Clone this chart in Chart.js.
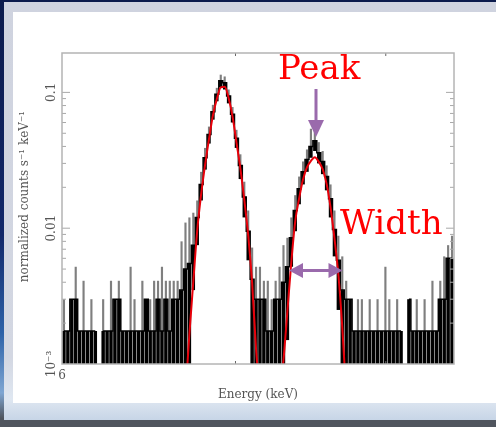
<!DOCTYPE html>
<html>
<head>
<meta charset="utf-8">
<script src="https://cdn.jsdelivr.net/npm/chart.js@4.4.1/dist/chart.umd.min.js"></script>
<style>
  html, body { margin: 0; padding: 0; }
  body {
    width: 496px; height: 427px; overflow: hidden; position: relative;
    background: linear-gradient(#0b1a4c 0%, #12286a 55%, #2d62a8 78%, #7fa6d2 92%, #4f545d 98%);
  }
  .slide {
    position: absolute; left: 4px; right: 0; top: 2px; height: 418px;
    background: linear-gradient(#cfd3df 0%, #d3d7e2 85%, #dfe7f1 95%, #c7d5e7 100%);
  }
  .floor { position: absolute; left: 0; right: 0; top: 420px; height: 7px; background: #50555e; }
  .panel { position: absolute; left: 13px; top: 12px; width: 483px; height: 391px; background: #fff; }
  .panel canvas { position: absolute; left: 0; top: 0; }
  .note {
    position: absolute; color: #ff0000; font-family: 'DejaVu Serif', serif;
    font-size: 34px; line-height: 34px; white-space: nowrap;
  }
  svg { position: absolute; left: 0; top: 0; }
</style>
</head>
<body>
<div class="slide"></div>
<div class="floor"></div>
<div class="panel"><canvas id="spec" width="483" height="391"></canvas></div>
<svg width="496" height="427">
  <g fill="#9a6aac">
    <rect x="314.5" y="89" width="3" height="33"></rect>
    <polygon points="308,120 324,120 316,137"></polygon>
    <rect x="301" y="269" width="29" height="3"></rect>
    <polygon points="289,270.5 303,263 303,278"></polygon>
    <polygon points="342.5,270.5 328.5,263 328.5,278"></polygon>
  </g>
</svg>
<div class="note" style="left:278px; top:50px;">Peak</div>
<div class="note" style="left:340px; top:205px;">Width</div>

<script>
// channel energies (keV), log-spaced bins from 6 to 8.5
const ENERGY = [
  6.01, 6.03, 6.05, 6.07, 6.09, 6.12, 6.14, 6.16, 6.18, 6.20,
  6.22, 6.25, 6.27, 6.29, 6.31, 6.33, 6.35, 6.38, 6.40, 6.42,
  6.44, 6.47, 6.49, 6.51, 6.53, 6.56, 6.58, 6.60, 6.63, 6.65,
  6.67, 6.70, 6.72, 6.74, 6.77, 6.79, 6.81, 6.84, 6.86, 6.89,
  6.91, 6.93, 6.96, 6.98, 7.01, 7.03, 7.05, 7.08, 7.10, 7.13,
  7.15, 7.18, 7.20, 7.23, 7.25, 7.28, 7.30, 7.33, 7.36, 7.38,
  7.41, 7.43, 7.46, 7.49, 7.51, 7.54, 7.56, 7.59, 7.62, 7.64,
  7.67, 7.70, 7.72, 7.75, 7.78, 7.80, 7.83, 7.86, 7.89, 7.91,
  7.94, 7.97, 8.00, 8.03, 8.05, 8.08, 8.11, 8.14, 8.17, 8.19,
  8.22, 8.25, 8.28, 8.31, 8.34, 8.37, 8.40, 8.43, 8.46, 8.49
];

// normalized counts s^-1 keV^-1 per channel
const COUNTS = [
  0.00175, 0.00175, 0.003, 0.003, 0.00175, 0.00175, 0.00175, 0.00175, 0.00175, null,
  0.00175, 0.00175, 0.00175, 0.003, 0.003, 0.00175, 0.00175, 0.00175, 0.00175, 0.00175,
  0.00175, 0.003, 0.00175, 0.00175, 0.003, 0.00175, 0.003, 0.00175, 0.003, 0.003,
  0.0035, 0.005, 0.0055, 0.0075, 0.012, 0.021, 0.033, 0.049, 0.072, 0.097,
  0.122, 0.118, 0.094, 0.069, 0.046, 0.029, 0.017, 0.0095, 0.0042, 0.003,
  0.003, 0.003, 0.00175, 0.00175, 0.003, 0.003, 0.004, 0.0052, 0.0085, 0.0135,
  0.0195, 0.026, 0.032, 0.040, 0.044, 0.036, 0.031, 0.024, 0.0165, 0.0098,
  0.0058, 0.0035, 0.003, 0.003, 0.00175, 0.00175, 0.00175, 0.00175, 0.00175, 0.00175,
  0.00175, 0.00175, 0.00175, 0.00175, 0.00175, 0.00175, 0.00175, null, 0.003, 0.00175,
  0.00175, 0.00175, 0.00175, 0.00175, 0.00175, 0.00175, 0.003, 0.003, 0.006, 0.006
];

// lower / upper ends of the error bars
const ERR_LO = [
  0.0005, 0.0005, 0.0005, 0.0005, 0.0005, 0.0005, 0.0005, 0.0005, 0.0005, null,
  0.0005, 0.0005, 0.0005, 0.0005, 0.0005, 0.0005, 0.0005, 0.0005, 0.0005, 0.0005,
  0.0005, 0.0005, 0.0005, 0.0005, 0.0005, 0.0005, 0.0005, 0.0005, 0.0005, 0.0005,
  0.0005, 0.0005, 0.0005, 0.0035, 0.0075, 0.016, 0.027, 0.042, 0.063, 0.086,
  0.109, 0.105, 0.083, 0.060, 0.039, 0.023, 0.012, 0.0058, 0.0005, 0.0005,
  0.0005, 0.0005, 0.0005, 0.0005, 0.0005, 0.0005, 0.0005, 0.0015, 0.0052, 0.0095,
  0.015, 0.021, 0.026, 0.033, 0.037, 0.030, 0.025, 0.019, 0.012, 0.0062,
  0.0025, 0.0005, 0.0005, 0.0005, 0.0005, 0.0005, 0.0005, 0.0005, 0.0005, 0.0005,
  0.0005, 0.0005, 0.0005, 0.0005, 0.0005, 0.0005, 0.0005, null, 0.0005, 0.0005,
  0.0005, 0.0005, 0.0005, 0.0005, 0.0005, 0.0005, 0.0005, 0.0005, 0.0005, 0.0005
];
const ERR_HI = [
  0.003, 0.00175, 0.003, 0.0052, 0.00175, 0.0041, 0.00175, 0.003, 0.00175, null,
  0.003, 0.00175, 0.0041, 0.003, 0.0041, 0.00175, 0.00175, 0.0052, 0.003, 0.00175,
  0.0041, 0.003, 0.003, 0.0041, 0.0041, 0.0052, 0.0041, 0.0041, 0.0041, 0.0041,
  0.008, 0.011, 0.012, 0.013, 0.016, 0.026, 0.039, 0.056, 0.081, 0.108,
  0.135, 0.131, 0.105, 0.078, 0.053, 0.035, 0.022, 0.0135, 0.0072, 0.0052,
  0.0052, 0.0041, 0.0041, 0.003, 0.0041, 0.0052, 0.0075, 0.0085, 0.012, 0.0175,
  0.024, 0.031, 0.038, 0.054, 0.056, 0.043, 0.037, 0.029, 0.021, 0.0135,
  0.0088, 0.0062, 0.0041, 0.003, 0.00175, 0.003, 0.003, 0.00175, 0.003, 0.00175,
  0.003, 0.00175, 0.0052, 0.003, 0.00175, 0.003, 0.00175, null, 0.003, 0.00175,
  0.003, 0.00175, 0.003, 0.00175, 0.0041, 0.00175, 0.0041, 0.0062, 0.0075, 0.0088
];

// fitted model (two gaussian lines), only where it is above the plot floor
const MODEL = [
  null, null, null, null, null, null, null, null, null, null,
  null, null, null, null, null, null, null, null, null, null,
  null, null, null, null, null, null, null, null, null, null,
  null, 0.0006, 0.00166, 0.00405, 0.00966, 0.0178, 0.0292, 0.0453, 0.0677, 0.0894,
  0.109, 0.110, 0.091, 0.0666, 0.0429, 0.0276, 0.0162, 0.00889, 0.00396, 0.00129,
  0.0006, null, null, null, null, 0.0006, 0.00107, 0.00245, 0.00562, 0.01125,
  0.0166, 0.0229, 0.0281, 0.0313, 0.0333, 0.0308, 0.0272, 0.0212, 0.01426, 0.00844,
  0.00456, 0.00187, 0.0006, null, null, null, null, null, null, null,
  null, null, null, null, null, null, null, null, null, null,
  null, null, null, null, null, null, null, null, null, null
];

const X_TICKS = [6, 7, 8];
const X_TICK_LABELS = ['6', '', ''];
const Y_TICKS = [0.001, 0.01, 0.1];
const Y_TICK_LABELS = ['10⁻³', '0.01', '0.1'];

const AXIS_FONT = { family: "'DejaVu Serif', serif", size: 12 };
const AXIS_COLOR = '#555';

const near = (a, b) => Math.abs(a - b) < b * 1e-6;
const isPow10 = v => Math.abs(Math.log10(v) - Math.round(Math.log10(v))) < 1e-6;

// frame with inward ticks, like the original plot
const frameTicks = {
  id: 'frameTicks',
  afterDatasetsDraw(chart) {
    const { ctx, chartArea: a, scales } = chart;
    const seg = (x1, y1, x2, y2) => { ctx.beginPath(); ctx.moveTo(x1, y1); ctx.lineTo(x2, y2); ctx.stroke(); };
    ctx.save();
    ctx.strokeStyle = '#a8a8a8';
    ctx.lineWidth = 1;
    scales.y.ticks.forEach(t => {
      const py = scales.y.getPixelForValue(t.value);
      if (py <= a.top + 1 || py >= a.bottom - 1) return;
      const len = isPow10(t.value) ? 8 : 4;
      seg(a.left, py, a.left + len, py);
      seg(a.right, py, a.right - len, py);
    });
    scales.xe.ticks.forEach(t => {
      const px = scales.xe.getPixelForValue(t.value);
      if (px <= a.left + 1) return;
      ctx.strokeStyle = '#666';
      seg(px, a.top, px, a.top + 3);
      seg(px, a.bottom, px, a.bottom - 3);
    });
    ctx.strokeStyle = '#b4b4b4';
    ctx.lineWidth = 1.5;
    ctx.strokeRect(a.left, a.top, a.right - a.left, a.bottom - a.top);
    ctx.restore();
  }
};

const lowerBars = COUNTS.map((v, i) => v === null ? null : [ERR_LO[i], v]);
const upperBars = COUNTS.map((v, i) => v === null ? null : [v, ERR_HI[i]]);

new Chart(document.getElementById('spec'), {
  type: 'bar',
  data: {
    labels: ENERGY,
    datasets: [
      {
        type: 'line',
        label: 'model',
        data: MODEL,
        borderColor: '#e8000a',
        borderWidth: 2,
        pointRadius: 0,
        tension: 0.3,
        cubicInterpolationMode: 'monotone',
        spanGaps: false,
        clip: 0,
        order: 0
      },
      {
        type: 'line',
        label: 'data',
        data: COUNTS,
        borderColor: '#000',
        borderWidth: 1.5,
        pointRadius: 0,
        stepped: 'middle',
        spanGaps: false,
        clip: 0,
        order: 1
      },
      {
        label: 'upper error',
        data: upperBars,
        backgroundColor: 'rgba(0,0,0,0.5)',
        borderWidth: 0,
        grouped: false,
        barPercentage: 0.55,
        categoryPercentage: 1,
        clip: 0,
        order: 2
      },
      {
        label: 'lower error',
        data: lowerBars,
        backgroundColor: '#000',
        borderWidth: 0,
        grouped: false,
        barPercentage: 0.88,
        categoryPercentage: 1,
        inflateAmount: 0,
        clip: 0,
        order: 3
      }
    ]
  },
  options: {
    responsive: false,
    animation: false,
    events: [],
    layout: { padding: { left: 0, top: 41, right: 42, bottom: 0 } },
    plugins: { legend: { display: false }, tooltip: { enabled: false } },
    scales: {
      x: { type: 'category', display: false, offset: true },
      xe: {
        type: 'logarithmic',
        position: 'bottom',
        min: 6,
        max: 8.5,
        grid: { display: false, drawTicks: false },
        border: { display: false },
        afterBuildTicks: s => { s.ticks = X_TICKS.map(v => ({ value: v })); },
        afterFit: s => { s.height = 39; },
        ticks: {
          autoSkip: false,
          maxRotation: 0,
          padding: 5,
          font: AXIS_FONT,
          color: AXIS_COLOR,
          callback: v => X_TICK_LABELS[X_TICKS.indexOf(v)] || ''
        },
        title: {
          display: true,
          text: 'Energy (keV)',
          font: AXIS_FONT,
          color: AXIS_COLOR,
          padding: { top: 0, bottom: 1 }
        }
      },
      y: {
        type: 'logarithmic',
        position: 'left',
        min: 0.001,
        max: 0.195,
        stacked: false,
        grid: { display: false, drawTicks: false },
        border: { display: false },
        afterBuildTicks: s => {
          s.ticks = s.ticks.filter(t => {
            const m = t.value / Math.pow(10, Math.floor(Math.log10(t.value) + 1e-9));
            return Math.abs(m - Math.round(m)) < 1e-6;
          });
        },
        afterFit: s => { s.width = 49; },
        ticks: {
          autoSkip: false,
          minRotation: 90,
          maxRotation: 90,
          crossAlign: 'center',
          padding: -3,
          font: AXIS_FONT,
          color: AXIS_COLOR,
          callback: v => {
            const k = Y_TICKS.findIndex(t => near(v, t));
            return k < 0 ? '' : Y_TICK_LABELS[k];
          }
        },
        title: {
          display: true,
          text: '\u2003\u2003normalized counts s⁻¹ keV⁻¹',
          font: AXIS_FONT,
          color: AXIS_COLOR,
          padding: { top: 5, bottom: 0 }
        }
      }
    }
  },
  plugins: [frameTicks]
});
</script>
</body>
</html>
